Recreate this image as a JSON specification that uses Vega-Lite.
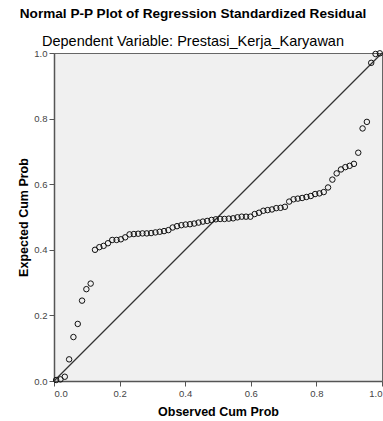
{
  "$schema": "https://vega.github.io/schema/vega-lite/v6.json",
  "width": 328,
  "height": 328,
  "autosize": {"type": "none"},
  "padding": {"left": 54, "top": 53, "right": 1, "bottom": 40},
  "background": "white",
  "title": {
    "text": "Normal P-P Plot of Regression Standardized Residual",
    "subtitle": "Dependent Variable: Prestasi_Kerja_Karyawan",
    "anchor": "middle",
    "dx": -25,
    "font": "Liberation Sans",
    "fontSize": 13.6,
    "fontWeight": "bold",
    "color": "black",
    "subtitleFont": "Liberation Sans",
    "subtitleFontSize": 14.5,
    "subtitleColor": "black",
    "subtitlePadding": 14,
    "offset": 0
  },
  "config": {
    "view": {"fill": "#F0F0F0", "stroke": "#666666", "strokeWidth": 1},
    "axis": {
      "grid": false,
      "domainColor": "#555555",
      "domainWidth": 1.5,
      "tickColor": "#555555",
      "tickSize": 5,
      "labelColor": "#444444",
      "labelFont": "Liberation Sans",
      "labelFontSize": 9.5,
      "labelPadding": 2,
      "titleFont": "Liberation Sans",
      "titleFontSize": 12.5,
      "titleFontWeight": "bold",
      "titleColor": "black"
    }
  },
  "datasets": {
    "pts": [
      {"obs": 0.0066, "exp": 0.003},
      {"obs": 0.0197, "exp": 0.005},
      {"obs": 0.0329, "exp": 0.013},
      {"obs": 0.0461, "exp": 0.066},
      {"obs": 0.0592, "exp": 0.134},
      {"obs": 0.0724, "exp": 0.174},
      {"obs": 0.0855, "exp": 0.245},
      {"obs": 0.0987, "exp": 0.280},
      {"obs": 0.1118, "exp": 0.297},
      {"obs": 0.1250, "exp": 0.400},
      {"obs": 0.1382, "exp": 0.408},
      {"obs": 0.1513, "exp": 0.412},
      {"obs": 0.1645, "exp": 0.420},
      {"obs": 0.1776, "exp": 0.430},
      {"obs": 0.1908, "exp": 0.430},
      {"obs": 0.2039, "exp": 0.432},
      {"obs": 0.2171, "exp": 0.438},
      {"obs": 0.2303, "exp": 0.447},
      {"obs": 0.2434, "exp": 0.448},
      {"obs": 0.2566, "exp": 0.449},
      {"obs": 0.2697, "exp": 0.450},
      {"obs": 0.2829, "exp": 0.450},
      {"obs": 0.2961, "exp": 0.451},
      {"obs": 0.3092, "exp": 0.453},
      {"obs": 0.3224, "exp": 0.455},
      {"obs": 0.3355, "exp": 0.457},
      {"obs": 0.3487, "exp": 0.460},
      {"obs": 0.3618, "exp": 0.468},
      {"obs": 0.3750, "exp": 0.472},
      {"obs": 0.3882, "exp": 0.475},
      {"obs": 0.4013, "exp": 0.477},
      {"obs": 0.4145, "exp": 0.478},
      {"obs": 0.4276, "exp": 0.480},
      {"obs": 0.4408, "exp": 0.483},
      {"obs": 0.4539, "exp": 0.486},
      {"obs": 0.4671, "exp": 0.488},
      {"obs": 0.4803, "exp": 0.491},
      {"obs": 0.4934, "exp": 0.493},
      {"obs": 0.5066, "exp": 0.494},
      {"obs": 0.5197, "exp": 0.494},
      {"obs": 0.5329, "exp": 0.495},
      {"obs": 0.5461, "exp": 0.496},
      {"obs": 0.5592, "exp": 0.499},
      {"obs": 0.5724, "exp": 0.501},
      {"obs": 0.5855, "exp": 0.501},
      {"obs": 0.5987, "exp": 0.501},
      {"obs": 0.6118, "exp": 0.509},
      {"obs": 0.6250, "exp": 0.513},
      {"obs": 0.6382, "exp": 0.519},
      {"obs": 0.6513, "exp": 0.521},
      {"obs": 0.6645, "exp": 0.523},
      {"obs": 0.6776, "exp": 0.527},
      {"obs": 0.6908, "exp": 0.528},
      {"obs": 0.7039, "exp": 0.531},
      {"obs": 0.7171, "exp": 0.547},
      {"obs": 0.7303, "exp": 0.554},
      {"obs": 0.7434, "exp": 0.556},
      {"obs": 0.7566, "exp": 0.558},
      {"obs": 0.7697, "exp": 0.561},
      {"obs": 0.7829, "exp": 0.564},
      {"obs": 0.7961, "exp": 0.570},
      {"obs": 0.8092, "exp": 0.572},
      {"obs": 0.8224, "exp": 0.576},
      {"obs": 0.8355, "exp": 0.590},
      {"obs": 0.8487, "exp": 0.614},
      {"obs": 0.8618, "exp": 0.633},
      {"obs": 0.8750, "exp": 0.645},
      {"obs": 0.8882, "exp": 0.652},
      {"obs": 0.9013, "exp": 0.656},
      {"obs": 0.9145, "exp": 0.662},
      {"obs": 0.9276, "exp": 0.696},
      {"obs": 0.9408, "exp": 0.770},
      {"obs": 0.9539, "exp": 0.790},
      {"obs": 0.9671, "exp": 0.970},
      {"obs": 0.9803, "exp": 0.997},
      {"obs": 0.9934, "exp": 0.999}
    ],
    "diag": [
      {"obs": 0, "exp": 0},
      {"obs": 1, "exp": 1}
    ]
  },
  "layer": [
    {
      "data": {"name": "diag"},
      "mark": {"type": "line", "color": "#333333", "strokeWidth": 1.2},
      "encoding": {
        "x": {"field": "obs", "type": "quantitative", "scale": {"domain": [0, 1], "nice": false},
          "axis": {"title": "Observed Cum Prob", "values": [0, 0.2, 0.4, 0.6, 0.8, 1], "format": ".1f", "titlePadding": 8}},
        "y": {"field": "exp", "type": "quantitative", "scale": {"domain": [0, 1], "nice": false},
          "axis": {"title": "Expected Cum Prob", "values": [0, 0.2, 0.4, 0.6, 0.8, 1], "format": ".1f", "titlePadding": 3}}
      }
    },
    {
      "data": {"name": "pts"},
      "mark": {"type": "point", "shape": "circle", "filled": false, "stroke": "#111111", "strokeWidth": 1, "size": 30, "opacity": 1},
      "encoding": {
        "x": {"field": "obs", "type": "quantitative"},
        "y": {"field": "exp", "type": "quantitative"}
      }
    }
  ]
}
